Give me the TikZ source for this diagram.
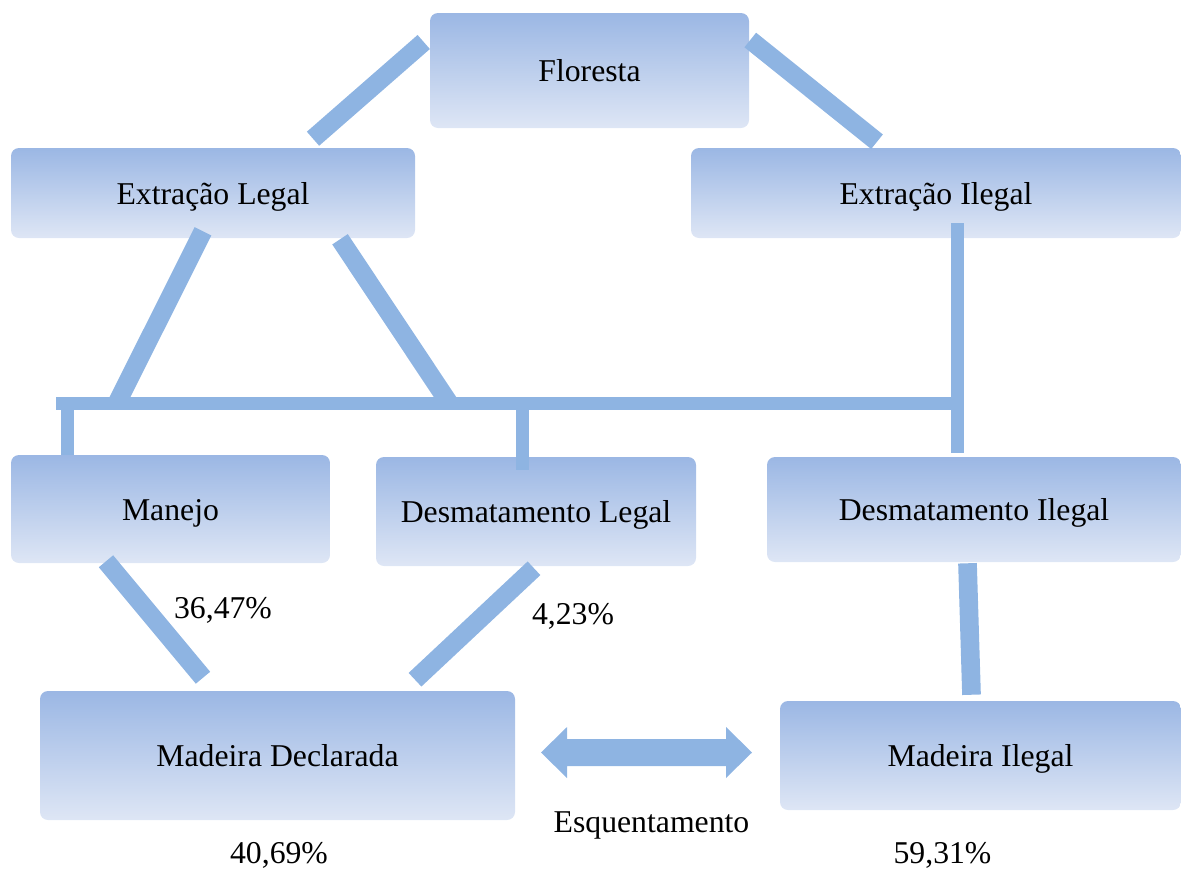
\documentclass[tikz,border=0pt]{standalone}
\usepackage{fontspec}
\setmainfont{Liberation Serif}
\usetikzlibrary{calc}

\definecolor{boxtop}{RGB}{155,183,228}
\definecolor{boxbot}{RGB}{222,230,245}
\definecolor{conn}{RGB}{142,180,226}

\begin{document}
\begin{tikzpicture}[x=0.75pt,y=-0.75pt,
    font=\fontsize{23.8}{28}\selectfont,
    caixa/.style={rectangle, rounded corners=6pt, top color=boxtop, bottom color=boxbot, inner sep=0pt, text height=17pt, text depth=0pt},
    fino/.style={conn, line width=9.75pt},
    grosso/.style={conn, line width=14pt}]
  \useasboundingbox (0,0) rectangle (1181,868);

  \node[caixa, minimum width=239.25pt, minimum height=86.25pt] (flor) at (589.5,70.5) {Floresta};
  \node[caixa, minimum width=303pt, minimum height=67.5pt] (extleg) at (213,193) {Extração Legal};
  \node[caixa, minimum width=367.5pt, minimum height=67.5pt] (extileg) at (936,193) {Extração Ilegal};
  \node[caixa, minimum width=239.25pt, minimum height=81pt] (manejo) at (170.5,509) {Manejo};
  \node[caixa, minimum width=240pt, minimum height=81.75pt] (desleg) at (536,511.5) {Desmatamento Legal};
  \node[caixa, minimum width=310.5pt, minimum height=78.75pt] (desileg) at (974,509.5) {Desmatamento Ilegal};
  \node[caixa, minimum width=356.25pt, minimum height=96.75pt] (madecl) at (277.5,755.5) {Madeira Declarada};
  \node[caixa, minimum width=300.75pt, minimum height=81.75pt] (madileg) at (980.5,755.5) {Madeira Ilegal};

  \coordinate (barL) at (56,403);
  \coordinate (barR) at (957.5,403);
  \coordinate (esq) at (646.5,752.5);

  % extracao
  \draw[grosso] ($(flor.west)+(-6,-28.5)$) -- ($(extleg.north)+(100,-9)$);
  \draw[grosso] ($(flor.east)+(1,-30.5)$) -- ($(extileg.north)+(-59,-6)$);
  \draw[grosso] ($(extleg.south)+(-10,-7)$) -- ($(barL)+(61,0)$);
  \draw[grosso] ($(extleg.south)+(127,1)$) -- ($(barL)+(393,0)$);

  % barra
  \draw[fino] (barL) -- (barR);
  \draw[fino] ($(extileg.south)+(21.5,-15)$) -- ($(desileg.north)+(-16.5,-4)$);
  \draw[fino] ($(barL)+(11.5,0)$) -- ($(manejo.north)+(-103,0)$);
  \draw[fino] ($(barL)+(466.5,0)$) -- ($(desleg.north)+(-13.5,13)$);

  % madeira
  \draw[grosso] ($(manejo.south)+(-64.5,-2)$) -- ($(madecl.north)+(-74.5,-13)$);
  \draw[grosso] ($(desleg.south)+(-2,2)$) -- ($(madecl.north)+(137.5,-11)$);
  \draw[grosso] ($(desileg.south)+(-6.5,1)$) -- ($(madileg.north)+(-9,-6)$);

  \fill[conn] ($(esq)+(-105.5,0)$) -- ++(26,-25.5) -- ++(0,12) -- ++(159,0) -- ++(0,-12)
    -- ++(26,25.5) -- ++(-26,25.5) -- ++(0,-12) -- ++(-159,0) -- ++(0,12) -- cycle;

  \node[anchor=base] (pman) at (223,618) {36,47\%};
  \node[anchor=base] (pdes) at (573,624) {4,23\%};
  \node[anchor=base] (pdecl) at (279,863) {40,69\%};
  \node[anchor=base] (pileg) at (942.5,863) {59,31\%};
  \node[anchor=base] (esqlbl) at (651.5,832) {Esquentamento};
\end{tikzpicture}
\end{document}
